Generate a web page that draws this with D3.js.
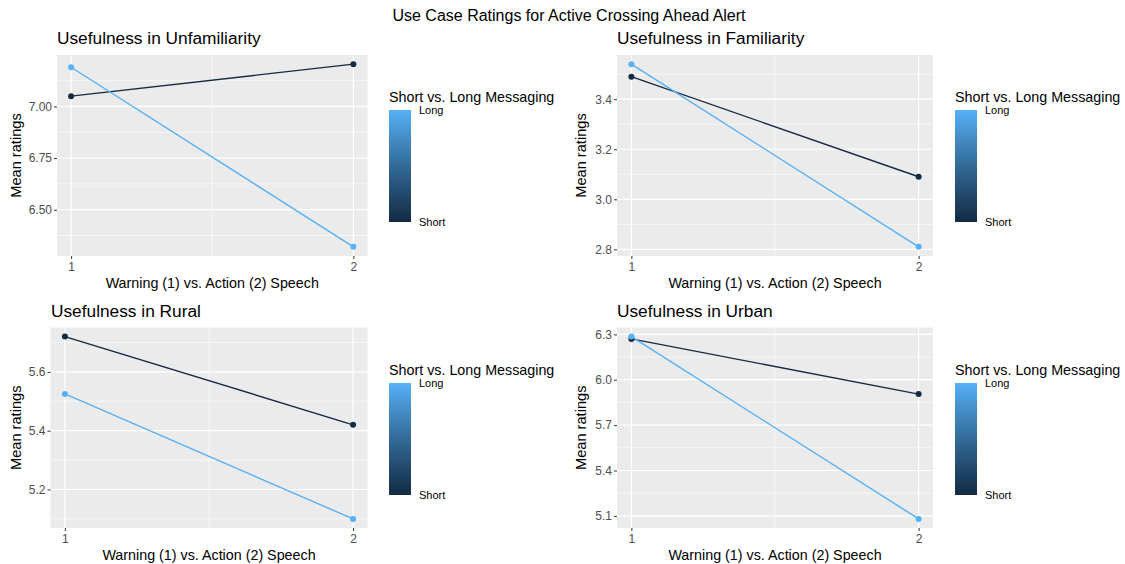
<!DOCTYPE html>
<html>
<head>
<meta charset="utf-8">
<script src="https://cdn.jsdelivr.net/npm/d3@7"></script>
<style>
  body { margin: 0; background: #fff; }
  svg { font-family: "Liberation Sans", Arial, Helvetica, sans-serif; }
</style>
</head>
<body>
<svg id="chart" width="1125" height="564"></svg>
<script>
// ---- data ----
const speechLevels = [1, 2];
const messageTypes = ["Short", "Long"];
const panelTitles = [
  "Usefulness in Unfamiliarity",
  "Usefulness in Familiarity",
  "Usefulness in Rural",
  "Usefulness in Urban"
];
const unfamiliarityShort = [7.05, 7.205];
const unfamiliarityLong  = [7.19, 6.32];
const familiarityShort   = [3.49, 3.09];
const familiarityLong    = [3.54, 2.81];
const ruralShort         = [5.72, 5.42];
const ruralLong          = [5.525, 5.10];
const urbanShort         = [6.27, 5.905];
const urbanLong          = [6.285, 5.08];

const unfamiliarityTicks = ["6.50", "6.75", "7.00"];
const familiarityTicks   = ["2.8", "3.0", "3.2", "3.4"];
const ruralTicks         = ["5.2", "5.4", "5.6"];
const urbanTicks         = ["5.1", "5.4", "5.7", "6.0", "6.3"];
const xTickLabels        = ["1", "2"];

const mainTitle = "Use Case Ratings for Active Crossing Ahead Alert";
const xTitle = "Warning (1) vs. Action (2) Speech";
const yTitle = "Mean ratings";
const legendTitle = "Short vs. Long Messaging";

// ---- styling ----
const colShort = "#132B43";
const colLong = "#56B1F7";
const panelBg = "#EBEBEB";

const svg = d3.select("#chart");

// gradient used by the colourbar legends
const defs = svg.append("defs");
const grad = defs.append("linearGradient")
  .attr("id", "msgGrad").attr("x1", 0).attr("y1", 1).attr("x2", 0).attr("y2", 0);
const interp = d3.interpolateLab(colShort, colLong);
d3.range(0, 1.0001, 0.1).forEach(t => {
  grad.append("stop").attr("offset", t).attr("stop-color", interp(t));
});

svg.append("text")
  .attr("x", 569).attr("y", 21)
  .attr("text-anchor", "middle")
  .attr("font-size", 16).attr("fill", "#000")
  .text(mainTitle);

const panels = [
  { title: panelTitles[0], short: unfamiliarityShort, long: unfamiliarityLong, ticks: unfamiliarityTicks,
    box: { l: 57, r: 367.5, t: 55, b: 256 }, titleX: 57, titleY: 44, yLabX: 21, legX: 389, legY: 110 },
  { title: panelTitles[1], short: familiarityShort, long: familiarityLong, ticks: familiarityTicks,
    box: { l: 617, r: 933, t: 55, b: 256 }, titleX: 617, titleY: 44, yLabX: 586, legX: 955, legY: 110 },
  { title: panelTitles[2], short: ruralShort, long: ruralLong, ticks: ruralTicks,
    box: { l: 50.5, r: 367.5, t: 327.5, b: 528 }, titleX: 51, titleY: 317, yLabX: 21, legX: 389, legY: 383 },
  { title: panelTitles[3], short: urbanShort, long: urbanLong, ticks: urbanTicks,
    box: { l: 617, r: 933, t: 327.5, b: 528 }, titleX: 617, titleY: 317, yLabX: 586, legX: 955, legY: 383 }
];

function expand(lo, hi) {
  const pad = (hi - lo) * 0.05;
  return [lo - pad, hi + pad];
}

function minorBreaks(major, domain) {
  const out = [];
  const step = major[1] - major[0];
  const ext = [major[0] - step, ...major, major[major.length - 1] + step];
  for (let i = 0; i < ext.length - 1; i++) {
    const m = (ext[i] + ext[i + 1]) / 2;
    if (m >= domain[0] && m <= domain[1]) out.push(m);
  }
  return out;
}

panels.forEach(p => {
  const g = svg.append("g");
  const b = p.box;

  const xDom = expand(d3.min(speechLevels), d3.max(speechLevels));
  const x = d3.scaleLinear().domain(xDom).range([b.l, b.r]);
  const allVals = p.short.concat(p.long);
  const yDom = expand(d3.min(allVals), d3.max(allVals));
  const y = d3.scaleLinear().domain(yDom).range([b.b, b.t]);

  const yMajor = p.ticks.map(Number);
  const xMajor = xTickLabels.map(Number);

  // panel background
  g.append("rect")
    .attr("x", b.l).attr("y", b.t)
    .attr("width", b.r - b.l).attr("height", b.b - b.t)
    .attr("fill", panelBg);

  // minor grid
  minorBreaks(yMajor, yDom).forEach(v => {
    g.append("line").attr("x1", b.l).attr("x2", b.r)
      .attr("y1", y(v)).attr("y2", y(v))
      .attr("stroke", "#fff").attr("stroke-width", 0.6);
  });
  minorBreaks(xMajor, xDom).forEach(v => {
    g.append("line").attr("y1", b.t).attr("y2", b.b)
      .attr("x1", x(v)).attr("x2", x(v))
      .attr("stroke", "#fff").attr("stroke-width", 0.6);
  });
  // major grid
  yMajor.forEach(v => {
    g.append("line").attr("x1", b.l).attr("x2", b.r)
      .attr("y1", y(v)).attr("y2", y(v))
      .attr("stroke", "#fff").attr("stroke-width", 1.2);
  });
  xMajor.forEach(v => {
    g.append("line").attr("y1", b.t).attr("y2", b.b)
      .attr("x1", x(v)).attr("x2", x(v))
      .attr("stroke", "#fff").attr("stroke-width", 1.2);
  });

  // axes
  const yAxis = d3.axisLeft(y).tickValues(yMajor)
    .tickFormat((d, i) => p.ticks[i]).tickSize(3).tickPadding(2);
  const ya = g.append("g").attr("transform", `translate(${b.l},0)`).call(yAxis);
  ya.select(".domain").remove();
  ya.selectAll(".tick line").attr("stroke", "#333").attr("stroke-width", 1);
  ya.selectAll(".tick text").attr("fill", "#4D4D4D").attr("font-size", 12)
    .attr("font-family", "Liberation Sans, Arial, sans-serif");

  const xAxis = d3.axisBottom(x).tickValues(xMajor)
    .tickFormat((d, i) => xTickLabels[i]).tickSize(3).tickPadding(3);
  const xa = g.append("g").attr("transform", `translate(0,${b.b})`).call(xAxis);
  xa.select(".domain").remove();
  xa.selectAll(".tick line").attr("stroke", "#333").attr("stroke-width", 1);
  xa.selectAll(".tick text").attr("fill", "#4D4D4D").attr("font-size", 12)
    .attr("font-family", "Liberation Sans, Arial, sans-serif");

  // lines and points
  const line = d3.line().x((d, i) => x(speechLevels[i])).y(d => y(d));
  const series = [
    { name: messageTypes[0], vals: p.short, col: colShort },
    { name: messageTypes[1], vals: p.long, col: colLong }
  ];
  series.forEach(s => {
    g.append("path").datum(s.vals).attr("d", line)
      .attr("fill", "none").attr("stroke", s.col).attr("stroke-width", 1.4);
  });
  series.forEach(s => {
    g.selectAll(null).data(s.vals).enter().append("circle")
      .attr("cx", (d, i) => x(speechLevels[i])).attr("cy", d => y(d))
      .attr("r", 3).attr("fill", s.col);
  });

  // titles
  g.append("text").attr("x", p.titleX).attr("y", p.titleY)
    .attr("font-size", 17.3).attr("fill", "#000").text(p.title);
  g.append("text").attr("x", (b.l + b.r) / 2).attr("y", b.b + 32)
    .attr("text-anchor", "middle").attr("font-size", 14.3).attr("fill", "#000").text(xTitle);
  g.append("text")
    .attr("transform", `translate(${p.yLabX},${(b.t + b.b) / 2}) rotate(-90)`)
    .attr("text-anchor", "middle").attr("font-size", 14.6).attr("fill", "#000").text(yTitle);

  // colourbar legend
  const barH = 112, barW = 22;
  g.append("text").attr("x", p.legX).attr("y", p.legY - 8.5)
    .attr("font-size", 14.3).attr("fill", "#000").text(legendTitle);
  g.append("rect").attr("x", p.legX).attr("y", p.legY)
    .attr("width", barW).attr("height", barH).attr("fill", "url(#msgGrad)");
  g.append("text").attr("x", p.legX + 30).attr("y", p.legY + 4)
    .attr("font-size", 11).attr("fill", "#000").text(messageTypes[1]);
  g.append("text").attr("x", p.legX + 30).attr("y", p.legY + barH + 4)
    .attr("font-size", 11).attr("fill", "#000").text(messageTypes[0]);
});
</script>
</body>
</html>
